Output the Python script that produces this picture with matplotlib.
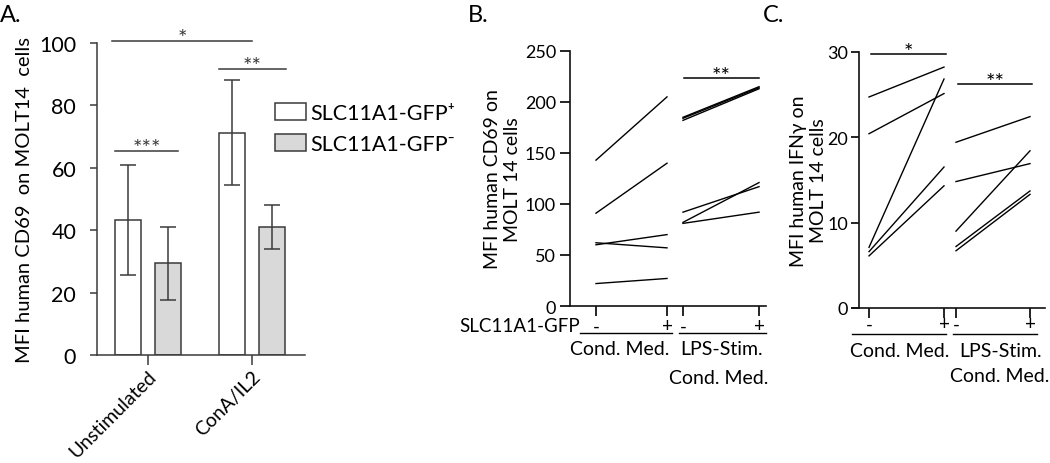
import numpy as np
import matplotlib
matplotlib.use('Agg')
import matplotlib.pyplot as plt
from matplotlib.patches import Patch
from matplotlib import transforms

plt.rcParams['font.family'] = ['Lato', 'DejaVu Sans']

# ---------- data: panel A (mean, lower/upper error) ----------
groups_a = ['Unstimulated', 'ConA/IL2']
pos_mean = [43.3, 71.1]
pos_lo = [25.5, 54.5]
pos_hi = [61.0, 88.0]
neg_mean = [29.5, 41.0]
neg_lo = [17.5, 34.0]
neg_hi = [41.0, 48.0]
legend_labels = ['SLC11A1-GFP\u207a', 'SLC11A1-GFP\u207b']

# ---------- data: panel B (CD69, paired) ----------
b_cond_minus = [143, 91, 62, 60, 22]
b_cond_plus = [205, 140, 57, 70, 27]
b_lps_minus = [182, 184, 185, 92, 82, 81]
b_lps_plus = [213, 214, 215, 117, 121, 92]

# ---------- data: panel C (IFNg, paired) ----------
c_cond_minus = [24.7, 20.4, 7.1, 6.6, 6.1]
c_cond_plus = [28.2, 25.1, 26.8, 16.5, 14.3]
c_lps_minus = [19.4, 14.8, 9.0, 7.2, 6.7]
c_lps_plus = [22.4, 16.9, 18.4, 13.7, 13.3]

W, H = 1050, 464
fig = plt.figure(figsize=(W / 100, H / 100), dpi=100)


def fy(px):
    return 1 - px / H


axc = '#3a3a3a'


def star(ax, x1, x2, yy, s, color='black'):
    ax.plot([x1, x2], [yy, yy], color=color, lw=1.1, clip_on=False)
    ax.annotate(s, xy=((x1 + x2) / 2, yy), xytext=(0, -2.5), textcoords='offset points',
                ha='center', va='baseline', fontsize=16, color=color, annotation_clip=False)


# ---------- panel A ----------
axA = fig.add_axes([97 / W, fy(356), 208 / W, 312 / H])
x = np.arange(len(groups_a))
bw = 0.25
err_pos = [np.subtract(pos_mean, pos_lo), np.subtract(pos_hi, pos_mean)]
err_neg = [np.subtract(neg_mean, neg_lo), np.subtract(neg_hi, neg_mean)]
axA.bar(x - 0.19, pos_mean, bw, color='white', edgecolor=axc, lw=1.1,
        yerr=err_pos, capsize=6, error_kw=dict(ecolor=axc, elinewidth=1.1, capthick=1.1))
axA.bar(x + 0.19, neg_mean, bw, color='#d9d9d9', edgecolor=axc, lw=1.1,
        yerr=err_neg, capsize=6, error_kw=dict(ecolor=axc, elinewidth=1.1, capthick=1.1))
axA.set_xlim(-0.49, 1.51)
axA.set_ylim(0, 100)
axA.set_yticks(np.arange(0, 101, 20))
axA.tick_params(axis='y', labelsize=15.5, length=5, width=1.1, pad=10, color=axc)
axA.tick_params(axis='x', length=7, width=1.1, color=axc, pad=2)
axA.set_xticks(x)
axA.set_xticklabels(groups_a, rotation=45, ha='right', rotation_mode='anchor', fontsize=14)
for lab in axA.get_xticklabels():
    lab.set_va('top')
axA.spines[['top', 'right']].set_visible(False)
for s in ['left', 'bottom']:
    axA.spines[s].set_linewidth(1.1)
    axA.spines[s].set_color(axc)
axA.set_ylabel('MFI human CD69  on MOLT14  cells', fontsize=14.5)
axA.yaxis.set_label_coords(-0.31, 0.5)

star(axA, -0.346, 1.0, 100.8, '*', axc)
star(axA, 0.683, 1.327, 91.7, '**', axc)
star(axA, -0.317, 0.288, 65.4, '***', axc)

handles = [Patch(facecolor='white', edgecolor=axc, lw=1.1),
           Patch(facecolor='#d9d9d9', edgecolor=axc, lw=1.1)]
fig.legend(handles, legend_labels, loc='upper left', bbox_to_anchor=(275 / W, fy(104)),
           frameon=False, fontsize=15.5, handlelength=1.45, handleheight=0.8,
           handletextpad=0.2, labelspacing=0.5, borderpad=0, borderaxespad=0)
fig.text(0 / W, fy(16), 'A.', fontsize=17, va='center', ha='left')


def paired_panel(ax, xs, left_min, left_plus, right_min, right_plus):
    for a, b in zip(left_min, left_plus):
        ax.plot([xs[0], xs[1]], [a, b], color='black', lw=1.0)
    for a, b in zip(right_min, right_plus):
        ax.plot([xs[2], xs[3]], [a, b], color='black', lw=1.0)
    ax.spines[['top', 'right']].set_visible(False)
    for s in ['left', 'bottom']:
        ax.spines[s].set_linewidth(1.2)
        ax.spines[s].set_color('#111111')
    ax.set_xticks(xs)
    ax.set_xticklabels([])
    ax.tick_params(axis='x', length=7, width=1.2)


# ---------- panel B ----------
xb = [0, 1, 1.225, 2.296]
axB = fig.add_axes([570 / W, fy(307), 196 / W, 255 / H])
paired_panel(axB, xb, b_cond_minus, b_cond_plus, b_lps_minus, b_lps_plus)
axB.set_xlim(-0.366, 2.394)
axB.set_ylim(0, 250)
axB.set_yticks(np.arange(0, 251, 50))
axB.tick_params(axis='y', labelsize=13, length=7, width=1.2, pad=3)
axB.set_ylabel('MFI human CD69 on\nMOLT 14 cells', fontsize=14, linespacing=1.2)
axB.yaxis.set_label_coords(-0.25, 0.5)
star(axB, 1.24, 2.296, 223.5, '**')

tb = transforms.blended_transform_factory(axB.transData, fig.transFigure)
axB.text(-0.225, fy(327), 'SLC11A1-GFP', transform=tb, ha='right', va='center', fontsize=13.5)
for xp, s in zip(xb, ['-', '+', '-', '+']):
    axB.text(xp, fy(327), s, transform=tb, ha='center', va='center', fontsize=13.5)
for x1, x2 in [(-0.225, 1.07), (1.169, 2.394)]:
    axB.plot([x1, x2], [fy(334), fy(334)], transform=tb, color='black', lw=1.0, clip_on=False)
axB.text(0.33, fy(350), 'Cond. Med.', transform=tb, ha='center', va='center', fontsize=14)
axB.text(1.775, fy(350), 'LPS-Stim.', transform=tb, ha='center', va='center', fontsize=14)
axB.text(1.73, fy(378), 'Cond. Med.', transform=tb, ha='center', va='center', fontsize=14)
fig.text(468 / W, fy(16), 'B.', fontsize=17, va='center', ha='left')

# ---------- panel C ----------
xc = [0, 1, 1.16, 2.147]
axC = fig.add_axes([852 / W, fy(309), 193 / W, 256.3 / H])
paired_panel(axC, xc, c_cond_minus, c_cond_plus, c_lps_minus, c_lps_plus)
axC.set_xlim(-0.227, 2.347)
axC.spines['left'].set_position(('data', -0.133))
axC.set_ylim(0, 30)
axC.set_yticks([0, 10, 20, 30])
axC.tick_params(axis='y', labelsize=13, length=6, width=1.2, pad=2)
axC.set_ylabel('MFI human IFN\u03b3 on\nMOLT 14 cells', fontsize=14, linespacing=1.2)
axC.yaxis.set_label_coords(-0.13, 0.5)
star(axC, 0.027, 1.027, 29.7, '*')
star(axC, 1.187, 2.173, 26.2, '**')

tc = transforms.blended_transform_factory(axC.transData, fig.transFigure)
for xp, s in zip(xc, ['-', '+', '-', '+']):
    axC.text(xp, fy(325), s, transform=tc, ha='center', va='center', fontsize=13.5)
for x1, x2 in [(-0.227, 1.027), (1.12, 2.24)]:
    axC.plot([x1, x2], [fy(335), fy(335)], transform=tc, color='black', lw=1.0, clip_on=False)
axC.text(0.413, fy(352), 'Cond. Med.', transform=tc, ha='center', va='center', fontsize=14)
axC.text(1.76, fy(352), 'LPS-Stim.', transform=tc, ha='center', va='center', fontsize=14)
axC.text(1.747, fy(377), 'Cond. Med.', transform=tc, ha='center', va='center', fontsize=14)
fig.text(763 / W, fy(16), 'C.', fontsize=17, va='center', ha='left')

fig.savefig('out.png', dpi=100, facecolor='white')
